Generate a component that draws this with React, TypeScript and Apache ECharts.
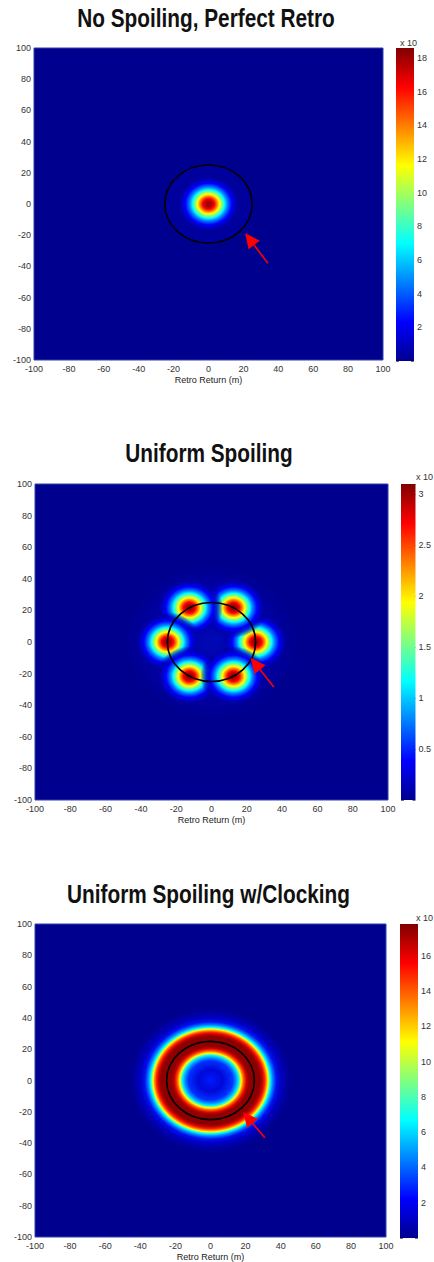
import React, { useEffect, useRef } from "react";
import * as echarts from "echarts";

// ---------- data ----------
const panelTitles = ["No Spoiling, Perfect Retro", "Uniform Spoiling", "Uniform Spoiling w/Clocking"];
const axisMin = -100;
const axisMax = 100;
const axisStep = 20;
const xAxisName = "Retro Return (m)";

// return spots: [x (m), y (m), visible radius (m)]
const spotsNoSpoiling = [[0, 0, 19]];
const spotsUniform = [
  [25, 0, 19],
  [12.5, 21.7, 19],
  [-12.5, 21.7, 19],
  [-25, 0, 19],
  [-12.5, -21.7, 19],
  [12.5, -21.7, 19],
];
const ringClocking = [[0, 0, 46]];
// faint side-lobe halos: [x, y, radius]
const haloNoSpoiling = [[0, 0, 26]];
const haloUniform = [[0, 0, 48]];
// reference circle: [x, y, radius]
const retroCircle = [[0, 0, 25]];
// arrows: [tailX, tailY, tipX, tipY]
const arrowNoSpoiling = [[34, -38, 21, -18.6]];
const arrowUniform = [[35.3, -28.5, 22.2, -10]];
const arrowClocking = [[31, -36.6, 18.5, -20.1]];
// colorbars
const colorbarMax = [18.6, 3.1, 17.8];
const colorbarInterval = [2, 0.5, 2];
const colorbarLabels1 = [2, 4, 6, 8, 10, 12, 14, 16, 18];
const colorbarLabels2 = [0.5, 1, 1.5, 2, 2.5, 3];
const colorbarLabels3 = [2, 4, 6, 8, 10, 12, 14, 16];
const colorbarScale = ["x 10", "x 10", "x 10"];

// ---------- layout / style ----------
const plotGrids = [
  { left: 34, top: 48, width: 349, height: 312 },
  { left: 35, top: 484, width: 353, height: 316 },
  { left: 35, top: 924, width: 351, height: 314 },
];
const cbGrids = [
  { left: 396, top: 48, width: 18, height: 313 },
  { left: 401, top: 484, width: 18, height: 316 },
  { left: 400, top: 924, width: 18, height: 314 },
];
const titlePos = [[206, 18], [209, 453], [208.5, 894]];
const scalePos = [[400, 43], [416, 477], [416, 918]];
const BG = "#00008F";
const CLEAR = "rgba(0,0,150,0)";
const FONT = "Liberation Sans, Arial, sans-serif";

const jetStops = [
  { offset: 0, color: "#00008F" },
  { offset: 0.125, color: "#0000FF" },
  { offset: 0.375, color: "#00FFFF" },
  { offset: 0.625, color: "#FFFF00" },
  { offset: 0.875, color: "#FF0000" },
  { offset: 1, color: "#800000" },
];

const spotStops = [
  { offset: 0, color: "#8a0000" },
  { offset: 0.1, color: "#b00000" },
  { offset: 0.18, color: "#ff0000" },
  { offset: 0.26, color: "#ff8000" },
  { offset: 0.33, color: "#ffff00" },
  { offset: 0.41, color: "#80ff80" },
  { offset: 0.48, color: "#00ffff" },
  { offset: 0.57, color: "#0080ff" },
  { offset: 0.7, color: "#0000ff" },
  { offset: 0.82, color: "rgba(0,0,196,0.8)" },
  { offset: 0.92, color: "rgba(0,0,160,0.4)" },
  { offset: 1, color: CLEAR },
];

const ringStops = [
  { offset: 0, color: "#0018ff" },
  { offset: 0.152, color: "#0008d8" },
  { offset: 0.272, color: "#0030ff" },
  { offset: 0.315, color: "#0090ff" },
  { offset: 0.348, color: "#00f0ff" },
  { offset: 0.38, color: "#ffff00" },
  { offset: 0.413, color: "#ff5000" },
  { offset: 0.446, color: "#d00000" },
  { offset: 0.478, color: "#900000" },
  { offset: 0.609, color: "#8a0000" },
  { offset: 0.641, color: "#c00000" },
  { offset: 0.67, color: "#ff2000" },
  { offset: 0.696, color: "#ffa000" },
  { offset: 0.713, color: "#ffff00" },
  { offset: 0.739, color: "#00ffff" },
  { offset: 0.772, color: "#0080ff" },
  { offset: 0.815, color: "#0010f0" },
  { offset: 0.87, color: "#0000c4" },
  { offset: 0.935, color: "#0000a4" },
  { offset: 1, color: BG },
];

const halo1Stops = [
  { offset: 0, color: "#00009e" },
  { offset: 0.75, color: "#00009a" },
  { offset: 0.9, color: "#0000a2" },
  { offset: 1, color: BG },
];
const halo2Stops = [
  { offset: 0, color: "#0008b4" },
  { offset: 0.5, color: "#0004ac" },
  { offset: 0.8, color: "#00009e" },
  { offset: 1, color: BG },
];

function ellipseRenderer(stops: any[]) {
  return (params: any, api: any) => {
    const c = api.coord([api.value(0), api.value(1)]);
    const s = api.size([api.value(2), api.value(2)]);
    return {
      type: "ellipse",
      shape: { cx: c[0], cy: c[1], rx: s[0], ry: s[1] },
      style: { fill: { type: "radial", x: 0.5, y: 0.5, r: 0.5, colorStops: stops } },
    };
  };
}

function circleRenderer(params: any, api: any) {
  const c = api.coord([api.value(0), api.value(1)]);
  const s = api.size([api.value(2), api.value(2)]);
  return {
    type: "ellipse",
    shape: { cx: c[0], cy: c[1], rx: s[0], ry: s[1] },
    style: { fill: "none", stroke: "#000000", lineWidth: 1.6 },
  };
}

function arrowRenderer(params: any, api: any) {
  const a = api.coord([api.value(0), api.value(1)]);
  const b = api.coord([api.value(2), api.value(3)]);
  const dx = b[0] - a[0];
  const dy = b[1] - a[1];
  const len = Math.hypot(dx, dy) || 1;
  const ux = dx / len;
  const uy = dy / len;
  const hl = 15;
  const hw = 7;
  const bx = b[0] - ux * hl;
  const by = b[1] - uy * hl;
  return {
    type: "group",
    children: [
      { type: "line", shape: { x1: a[0], y1: a[1], x2: bx, y2: by }, style: { stroke: "#ff0000", lineWidth: 1.6 } },
      {
        type: "polygon",
        shape: { points: [[b[0], b[1]], [bx - uy * hw, by + ux * hw], [bx + uy * hw, by - ux * hw]] },
        style: { fill: "#ff0000" },
      },
    ],
  };
}

export default function App() {
  const ref = useRef<HTMLDivElement>(null);

  useEffect(() => {
    if (!ref.current) return;
    const chart = echarts.init(ref.current, undefined, { renderer: "svg" });

    const grids: any[] = [];
    const xAxes: any[] = [];
    const yAxes: any[] = [];
    const series: any[] = [];

    plotGrids.forEach((g, i) => {
      grids.push({ ...g, show: true, backgroundColor: BG, borderColor: "#3040a8", borderWidth: 1 });
      xAxes.push({
        gridIndex: i,
        type: "value",
        min: axisMin,
        max: axisMax,
        interval: axisStep,
        axisLine: { show: false },
        axisTick: { show: false },
        splitLine: { show: false },
        axisLabel: { fontSize: 9, color: "#333", margin: 4, fontFamily: FONT },
        name: xAxisName,
        nameLocation: "middle",
        nameGap: 15,
        nameTextStyle: { fontSize: 9, color: "#222", fontFamily: FONT },
      });
      yAxes.push({
        gridIndex: i,
        type: "value",
        min: axisMin,
        max: axisMax,
        interval: axisStep,
        axisLine: { show: false },
        axisTick: { show: false },
        splitLine: { show: false },
        axisLabel: { fontSize: 9, color: "#333", margin: 3, fontFamily: FONT },
      });
    });

    const cbLabelSets = [colorbarLabels1, colorbarLabels2, colorbarLabels3];
    cbGrids.forEach((g, i) => {
      grids.push({ ...g, show: false });
      xAxes.push({
        gridIndex: 3 + i,
        type: "category",
        data: ["cb"],
        boundaryGap: true,
        show: false,
      });
    });
    cbGrids.forEach((g, i) => {
      yAxes.push({
        gridIndex: 3 + i,
        type: "value",
        position: "right",
        min: 0,
        max: colorbarMax[i],
        interval: colorbarInterval[i],
        axisLine: { show: false },
        splitLine: { show: false },
        axisTick: { show: true, inside: true, length: 3, lineStyle: { color: "rgba(0,0,0,0.55)" } },
        axisLabel: {
          fontSize: 9,
          color: "#333",
          margin: 3,
          fontFamily: FONT,
          formatter: (v: number) => (cbLabelSets[i].some((t) => Math.abs(t - v) < 1e-6) ? String(v) : ""),
        },
      });
    });
    cbGrids.forEach((g, i) => {
      yAxes.push({
        gridIndex: 3 + i,
        type: "value",
        position: "left",
        min: 0,
        max: colorbarMax[i],
        interval: colorbarInterval[i],
        axisLine: { show: false },
        splitLine: { show: false },
        axisTick: { show: true, inside: true, length: 3, lineStyle: { color: "rgba(0,0,0,0.55)" } },
        axisLabel: { show: false },
      });
    });

    const spotSets = [spotsNoSpoiling, spotsUniform, ringClocking];
    const spotStyles = [spotStops, spotStops, ringStops];
    const haloSets = [haloNoSpoiling, haloUniform, null];
    const haloStyles = [halo1Stops, halo2Stops, null];
    const arrowSets = [arrowNoSpoiling, arrowUniform, arrowClocking];

    for (let i = 0; i < 3; i++) {
      if (haloSets[i]) {
        series.push({
          type: "custom",
          xAxisIndex: i,
          yAxisIndex: i,
          silent: true,
          renderItem: ellipseRenderer(haloStyles[i] as any[]),
          data: haloSets[i],
        });
      }
      series.push({
        type: "custom",
        xAxisIndex: i,
        yAxisIndex: i,
        silent: true,
        renderItem: ellipseRenderer(spotStyles[i]),
        data: spotSets[i],
      });
      series.push({
        type: "custom",
        xAxisIndex: i,
        yAxisIndex: i,
        silent: true,
        renderItem: circleRenderer,
        data: retroCircle,
      });
      series.push({
        type: "custom",
        xAxisIndex: i,
        yAxisIndex: i,
        silent: true,
        renderItem: arrowRenderer,
        data: arrowSets[i],
      });
      series.push({
        type: "bar",
        xAxisIndex: 3 + i,
        yAxisIndex: 3 + i,
        silent: true,
        barWidth: "100%",
        data: [colorbarMax[i]],
        itemStyle: {
          color: { type: "linear", x: 0, y: 1, x2: 0, y2: 0, colorStops: jetStops },
        },
      });
    }

    const graphics: any[] = [];
    panelTitles.forEach((t, i) => {
      graphics.push({
        type: "text",
        x: titlePos[i][0],
        y: titlePos[i][1],
        scaleX: 0.8,
        silent: true,
        style: {
          text: t,
          fill: "#111",
          fontSize: 26,
          fontWeight: "bold",
          fontFamily: FONT,
          align: "center",
          verticalAlign: "middle",
          textAlign: "center",
          textVerticalAlign: "middle",
        },
      });
    });
    colorbarScale.forEach((t, i) => {
      graphics.push({
        type: "text",
        x: scalePos[i][0],
        y: scalePos[i][1],
        silent: true,
        style: {
          text: t,
          fill: "#333",
          fontSize: 9,
          fontFamily: FONT,
          align: "left",
          verticalAlign: "middle",
          textAlign: "left",
          textVerticalAlign: "middle",
        },
      });
    });

    chart.setOption({
      animation: false,
      backgroundColor: "#ffffff",
      grid: grids,
      xAxis: xAxes,
      yAxis: yAxes,
      series,
      graphic: graphics,
    });

    return () => {
      chart.dispose();
    };
  }, []);

  return (
    <div
      ref={ref}
      style={{ position: "absolute", left: 0, top: 0, width: 434, height: 1262 }}
    />
  );
}
